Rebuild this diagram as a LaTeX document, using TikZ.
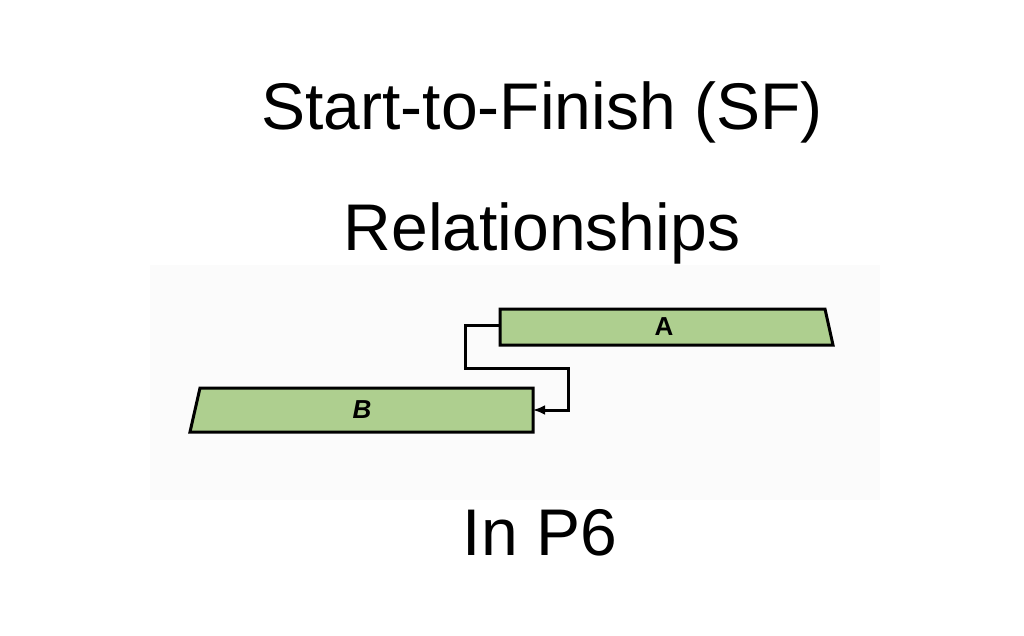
\documentclass[tikz,border=0pt]{standalone}
\usepackage{fontspec}
\setmainfont{Liberation Sans}
\usetikzlibrary{arrows.meta}
\begin{document}
\begin{tikzpicture}[x=1pt,y=-1pt,
  bar/.style={fill=barg,draw=black,line width=3pt,line join=miter},
  title/.style={font=\fontsize{66}{70}\selectfont,anchor=base},
  lbl/.style={font=\bfseries\fontsize{26}{28}\selectfont}]
\definecolor{barg}{HTML}{AECF8F}
\useasboundingbox (0,0) rectangle (1024,636);
\fill[white] (0,0) rectangle (1024,636);
\fill[black!1.5] (150,265) rectangle (880,500);
\node[title] (t1) at (542,130) {Start-to-Finish (SF)};
\node[title] (t2) at (542,250) {Relationships};
\node[title] (t3) at (540,555) {In P6};
\draw[bar] (500,309) -- (825,309) -- (833,345) -- (500,345) -- cycle;
\draw[bar] (200,388) -- (533,388) -- (533,432) -- (190,432) -- cycle;
\node[lbl] (a) at (664,327) {A};
\node[lbl,font=\bfseries\itshape\fontsize{26}{28}\selectfont] (b) at (362,410) {B};
\coordinate (as) at (500,325);
\coordinate (bf) at (533,410);
\draw[line width=3pt,-{Latex[length=12pt,width=10pt]}] (as) -- (465,325) -- (465,368) -- (568,368) -- (568,410) -- (bf);
\end{tikzpicture}
\end{document}
